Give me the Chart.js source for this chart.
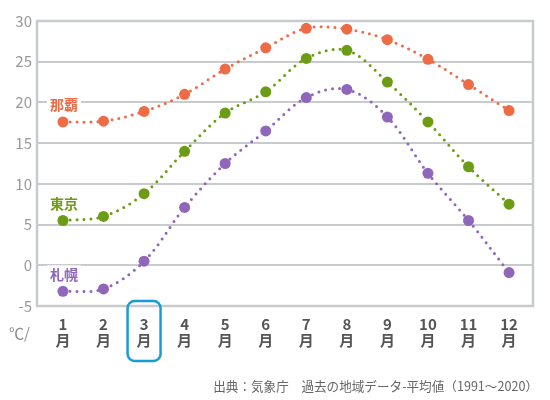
<!DOCTYPE html>
<html>
<head>
<meta charset="utf-8">
<script src="https://cdn.jsdelivr.net/npm/chart.js@4"></script>
<style>
  html, body { margin: 0; padding: 0; background: #fff; }
  #wrap { width: 550px; height: 400px; }
</style>
</head>
<body>
<div id="wrap"><canvas id="myChart" width="550" height="400"></canvas></div>
<script>
// 月平均気温（℃） 1991〜2020
const months = [1, 2, 3, 4, 5, 6, 7, 8, 9, 10, 11, 12]
const naha = [17.6, 17.7, 18.9, 21.0, 24.1, 26.7, 29.1, 29.0, 27.7, 25.3, 22.2, 19.0]
const tokyo = [5.5, 6.0, 8.8, 14.0, 18.7, 21.3, 25.4, 26.4, 22.5, 17.6, 12.1, 7.5]
const sapporo = [-3.2, -2.9, 0.5, 7.1, 12.5, 16.5, 20.6, 21.6, 18.2, 11.3, 5.5, -0.9]
const yTicks = [-5, 0, 5, 10, 15, 20, 25, 30]
const cities = ['那覇', '東京', '札幌']
const colors = ['#ee6b45', '#6c9c14', '#9066bb']
const highlightMonth = 3
const unitLabel = '℃/'
const source = '出典：気象庁　過去の地域データ-平均値（1991〜2020）'

const font = '"Noto Sans CJK JP", "Noto Sans", sans-serif'
const ctx = document.getElementById('myChart')

const toPoints = arr => arr.map((v, i) => ({ x: months[i], y: v }))

const lineSet = (label, arr, color) => ({
  label: label,
  data: toPoints(arr),
  borderColor: color,
  backgroundColor: color,
  borderWidth: 3,
  borderDash: [0, 7],
  borderCapStyle: 'round',
  tension: 0.35,
  pointRadius: 5.5,
  pointBorderWidth: 0,
  pointHoverRadius: 5.5
})

// 枠・都市名・単位・出典・3月の囲み
const extras = {
  id: 'extras',
  afterDatasetsDraw(chart) {
    const c = chart.ctx
    const a = chart.chartArea
    const xs = chart.scales.x
    c.save()
    // 外枠
    c.strokeStyle = '#c8cbcd'
    c.lineWidth = 2.5
    c.strokeRect(a.left, a.top, a.right - a.left, a.bottom - a.top)

    // 都市名
    c.font = 'bold 14px ' + font
    c.textAlign = 'center'
    c.textBaseline = 'middle'
    chart.data.datasets.forEach((ds, i) => {
      const p = chart.getDatasetMeta(i).data[0]
      const tx = p.x + 1
      const ty = p.y - 17
      const w = c.measureText(ds.label).width
      c.fillStyle = '#fff'
      c.fillRect(tx - w / 2 - 3, ty - 9, w + 6, 18)
      c.fillStyle = colors[i]
      c.fillText(ds.label, tx, ty)
    })

    // 単位
    c.font = '15px ' + font
    c.fillStyle = '#8c8c8c'
    c.textAlign = 'left'
    c.fillText(unitLabel, 9, 333)

    // 3月の囲み
    const hx = xs.getPixelForValue(highlightMonth)
    const bw = 33, bh = 60, r = 7
    const bx = hx - bw / 2, by = a.bottom - 5
    c.strokeStyle = '#1a9bd6'
    c.lineWidth = 2.5
    c.beginPath()
    c.roundRect(bx, by, bw, bh, r)
    c.stroke()

    // 出典
    c.font = '12.6px ' + font
    c.fillStyle = '#666'
    c.textAlign = 'right'
    c.fillText(source, 538, 386)
    c.restore()
  }
}

new Chart(ctx, {
  type: 'line',
  data: {
    datasets: [
      lineSet(cities[0], naha, colors[0]),
      lineSet(cities[1], tokyo, colors[1]),
      lineSet(cities[2], sapporo, colors[2])
    ]
  },
  options: {
    responsive: false,
    animation: false,
    layout: { padding: { top: 21, right: 17, left: 0, bottom: 0 } },
    plugins: {
      legend: { display: false },
      tooltip: { enabled: false }
    },
    scales: {
      x: {
        type: 'linear',
        min: 0.36,
        max: 12.59,
        grid: { display: false, drawTicks: false },
        border: { display: false },
        afterBuildTicks: axis => { axis.ticks = months.map(m => ({ value: m })) },
        afterFit: scale => { scale.height = 94 },
        ticks: {
          autoSkip: false,
          maxRotation: 0,
          padding: 10,
          color: '#555',
          font: { family: font, size: 15, weight: 'bold', lineHeight: 1.1 },
          callback: v => [String(v), '月']
        }
      },
      y: {
        min: -5,
        max: 30,
        grid: { color: '#c8cbcd', lineWidth: 2, drawTicks: false },
        border: { display: false },
        afterBuildTicks: axis => { axis.ticks = yTicks.map(v => ({ value: v })) },
        afterFit: scale => { scale.width = 37 },
        ticks: {
          padding: 5,
          color: '#999',
          font: { family: font, size: 15 }
        }
      }
    }
  },
  plugins: [extras]
})
</script>
</body>
</html>
